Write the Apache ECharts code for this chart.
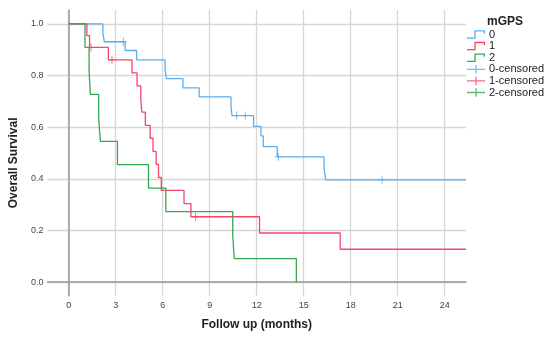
<!DOCTYPE html>
<html>
<head>
<meta charset="utf-8">
<script src="https://cdn.jsdelivr.net/npm/echarts@6/dist/echarts.min.js"></script>
<style>
  html, body { margin: 0; padding: 0; background: #fff; }
  #chart { width: 550px; height: 340px; }
</style>
</head>
<body>
<div id="chart"></div>
<script>
// survival steps per mGPS group (months, survival)
var time0 = [0, 2.18, 2.27, 3.6, 4.33, 6.15, 6.24, 7.29, 8.33, 10.36, 10.42, 11.8, 12.27, 12.42, 13.31, 16.3, 16.4, 25.36];
var surv0 = [1, 0.966, 0.931, 0.897, 0.861, 0.823, 0.788, 0.752, 0.717, 0.681, 0.645, 0.603, 0.566, 0.525, 0.485, 0.44, 0.396, 0.396];
var time1 = [0, 1.16, 1.33, 2.53, 4.04, 4.36, 4.6, 4.67, 4.89, 5.2, 5.38, 5.58, 5.73, 5.91, 7.36, 7.8, 12.18, 17.33, 25.36];
var surv1 = [1, 0.955, 0.909, 0.861, 0.81, 0.76, 0.709, 0.658, 0.607, 0.557, 0.506, 0.456, 0.405, 0.355, 0.304, 0.253, 0.19, 0.127, 0.127];
var time2 = [0, 1.04, 1.3, 1.38, 1.91, 2.02, 3.11, 5.09, 6.2, 10.47, 10.56, 14.53];
var surv2 = [1, 0.909, 0.818, 0.727, 0.636, 0.545, 0.455, 0.364, 0.273, 0.182, 0.091, 0];
// censored observations
var censTime0 = [3.49, 10.72, 11.27, 13.38, 20.0];
var censSurv0 = [0.931, 0.645, 0.645, 0.485, 0.396];
var censTime1 = [1.42, 2.76, 8.1];
var censSurv1 = [0.909, 0.861, 0.253];
var censTime2 = [];
var censSurv2 = [];

var groups = ["0", "1", "2"];
var xTicks = [0, 3, 6, 9, 12, 15, 18, 21, 24];
var yTicks = [0, 0.2, 0.4, 0.6, 0.8, 1.0];
var colors = ["#5aaef0", "#f2476b", "#34a853"];

var stepIcon = "path://M0,6.8H7V0H17V3H15.8V1.2H8.2V8H0Z";
var plusIcon = "path://M0,3.4H8V0H9.2V3.4H17V4.6H9.2V8H8V4.6H0Z";
var censSymbol = "path://M0,3.5H3V0H4V3.5H7V4.5H4V8H3V4.5H0Z";

function zip(xs, ys) {
  var out = [];
  for (var i = 0; i < xs.length; i++) out.push([xs[i], ys[i]]);
  return out;
}

var stepData = [zip(time0, surv0), zip(time1, surv1), zip(time2, surv2)];
var censData = [zip(censTime0, censSurv0), zip(censTime1, censSurv1), zip(censTime2, censSurv2)];

var series = [];
var legendData = [];
for (var i = 0; i < 3; i++) {
  series.push({
    name: groups[i],
    type: "line",
    step: "end",
    symbol: "none",
    itemStyle: { color: colors[i] },
    lineStyle: { color: colors[i], width: 1.3 },
    data: stepData[i]
  });
  legendData.push({ name: groups[i], icon: stepIcon });
}
for (var j = 0; j < 3; j++) {
  series.push({
    name: groups[j] + "-censored",
    type: "scatter",
    symbol: censSymbol,
    symbolSize: [7, 8],
    symbolKeepAspect: false,
    itemStyle: { color: colors[j] },
    data: censData[j]
  });
  legendData.push({ name: groups[j] + "-censored", icon: plusIcon });
}

var font = "Liberation Sans";
var chart = echarts.init(document.getElementById("chart"));
chart.setOption({
  animation: false,
  textStyle: { fontFamily: font },
  title: {
    text: "mGPS",
    left: 487,
    top: 16,
    padding: 0,
    textStyle: { fontFamily: font, fontSize: 12, fontWeight: "bold", color: "#222" }
  },
  legend: {
    orient: "vertical",
    left: 467,
    top: 29,
    padding: 0,
    itemWidth: 18,
    itemHeight: 9,
    itemGap: 0.6,
    itemStyle: { borderWidth: 0 },
    textStyle: { fontFamily: font, fontSize: 11, color: "#222", lineHeight: 11, padding: [0, 0, 0, -1] },
    data: legendData
  },
  grid: { left: 44.5, right: 84, top: 10, bottom: 44.3 },
  xAxis: {
    type: "value",
    min: -1.36,
    max: 25.36,
    name: "Follow up (months)",
    nameLocation: "middle",
    nameGap: 23,
    nameTextStyle: { fontFamily: font, fontSize: 12, fontWeight: "bold", color: "#222" },
    axisLine: { show: true, lineStyle: { color: "#999", width: 1.5 } },
    axisTick: { show: false, customValues: xTicks },
    axisLabel: { customValues: xTicks, fontSize: 9, color: "#444", margin: 5 },
    splitLine: { show: true, lineStyle: { color: "#d6d6d6", width: 1.3 } }
  },
  yAxis: {
    type: "value",
    min: -0.053,
    max: 1.054,
    name: "Overall Survival",
    nameLocation: "middle",
    nameGap: 26,
    nameTextStyle: { fontFamily: font, fontSize: 12, fontWeight: "bold", color: "#222", padding: [0, 20, 0, 0] },
    axisLine: { show: true, lineStyle: { color: "#999", width: 1.5 } },
    axisTick: { show: false, customValues: yTicks },
    axisLabel: {
      customValues: yTicks,
      fontSize: 9,
      color: "#444",
      margin: 4,
      formatter: function (v) { return v.toFixed(1); }
    },
    splitLine: { show: true, lineStyle: { color: "#d6d6d6", width: 1.3 } }
  },
  series: series
});
</script>
</body>
</html>
